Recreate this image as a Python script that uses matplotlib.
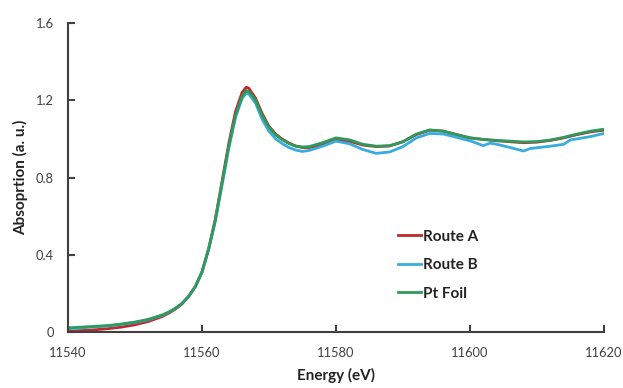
import matplotlib
matplotlib.use("Agg")
import matplotlib.pyplot as plt

plt.rcParams['font.family'] = ['Lato', 'DejaVu Sans']

energy_a = [11540, 11542, 11544, 11546, 11548, 11550, 11552, 11554, 11555, 11556, 11557, 11558,
            11559, 11560, 11561, 11562, 11563, 11564, 11565, 11566, 11566.6, 11567, 11568, 11569,
            11570, 11571, 11572, 11573, 11574, 11575, 11576, 11578, 11580, 11582, 11584, 11586,
            11588, 11590, 11592, 11594, 11596, 11598, 11600, 11602, 11604, 11606, 11608, 11610,
            11612, 11614, 11616, 11618, 11620]
route_a = [0.005, 0.008, 0.012, 0.018, 0.026, 0.038, 0.055, 0.080, 0.097, 0.118, 0.145, 0.183,
           0.235, 0.31, 0.43, 0.585, 0.78, 0.975, 1.14, 1.24, 1.267, 1.262, 1.21, 1.13,
           1.065, 1.025, 0.998, 0.978, 0.963, 0.955, 0.955, 0.970, 0.992, 0.988, 0.968, 0.960,
           0.963, 0.985, 1.022, 1.045, 1.040, 1.022, 1.005, 0.997, 0.990, 0.985, 0.980, 0.983,
           0.992, 1.005, 1.022, 1.036, 1.045]

energy_b = [11540, 11542, 11544, 11546, 11548, 11550, 11552, 11554, 11555, 11556, 11557, 11558,
            11559, 11560, 11561, 11562, 11563, 11564, 11565, 11566, 11566.6, 11567, 11568, 11569,
            11570, 11571, 11572, 11573, 11574, 11575, 11576, 11578, 11580, 11582, 11584, 11586,
            11588, 11590, 11592, 11594, 11596, 11598, 11600, 11602, 11603, 11604, 11606, 11608,
            11609, 11610, 11612, 11614, 11615, 11616, 11618, 11620]
route_b = [0.018, 0.022, 0.027, 0.032, 0.040, 0.050, 0.064, 0.086, 0.101, 0.121, 0.147, 0.184,
           0.234, 0.31, 0.43, 0.575, 0.76, 0.95, 1.11, 1.21, 1.236, 1.232, 1.185, 1.10,
           1.04, 1.00, 0.975, 0.955, 0.942, 0.935, 0.940, 0.962, 0.988, 0.975, 0.945, 0.925,
           0.932, 0.960, 1.005, 1.028, 1.025, 1.008, 0.990, 0.965, 0.978, 0.972, 0.955, 0.937,
           0.950, 0.954, 0.962, 0.972, 0.995, 1.000, 1.012, 1.028]

energy_pt = energy_a
pt_foil = [0.022, 0.026, 0.030, 0.034, 0.042, 0.052, 0.066, 0.088, 0.103, 0.123, 0.148, 0.185,
           0.235, 0.31, 0.43, 0.58, 0.77, 0.96, 1.12, 1.22, 1.25, 1.245, 1.20, 1.12,
           1.06, 1.02, 0.995, 0.975, 0.962, 0.958, 0.960, 0.980, 1.005, 0.995, 0.972, 0.962,
           0.965, 0.985, 1.025, 1.046, 1.040, 1.022, 1.005, 0.997, 0.992, 0.988, 0.984, 0.986,
           0.994, 1.008, 1.025, 1.040, 1.050]

x_ticks = [11540, 11560, 11580, 11600, 11620]
y_ticks = [0, 0.4, 0.8, 1.2, 1.6]
y_tick_labels = ['0', '0.4', '0.8', '1.2', '1.6']

fig = plt.figure(figsize=(6.23, 3.88), dpi=100)
ax = fig.add_axes([0.109, 0.144, 0.8605, 0.797])

ax.plot(energy_a, route_a, color='#C0282D', lw=2.0, label='Route A')
ax.plot(energy_b, route_b, color='#38ACDF', lw=2.0, label='Route B')
ax.plot(energy_pt, pt_foil, color='#2E9A5C', lw=2.0, label='Pt Foil')

ax.set_xlim(11540, 11620)
ax.set_ylim(0, 1.6)
ax.set_xticks(x_ticks)
ax.set_yticks(y_ticks)
ax.set_yticklabels(y_tick_labels)
for s in ['top', 'right']:
    ax.spines[s].set_visible(False)
for s in ['left', 'bottom']:
    ax.spines[s].set_color('#404040')
    ax.spines[s].set_linewidth(1.5)
ax.tick_params(direction='in', length=5, width=1.5, color='#404040',
               labelcolor='#404040', labelsize=9.3)
ax.tick_params(axis='x', pad=11)
ax.tick_params(axis='y', pad=10)

ax.set_xlabel('Energy (eV)', fontsize=11, fontweight='bold', color='#222222', labelpad=6)
ax.set_ylabel('Absoprtion (a. u.)', fontsize=11, fontweight='bold', color='#222222', labelpad=6)

leg = ax.legend(loc='center left', bbox_to_anchor=(0.615, 0.217), frameon=False,
                handlelength=1.5, handletextpad=0.15, labelspacing=0.95,
                borderaxespad=0, borderpad=0, prop={'weight': 'bold', 'size': 11})
for t in leg.get_texts():
    t.set_color('#222222')

fig.savefig('out.png', dpi=100)
